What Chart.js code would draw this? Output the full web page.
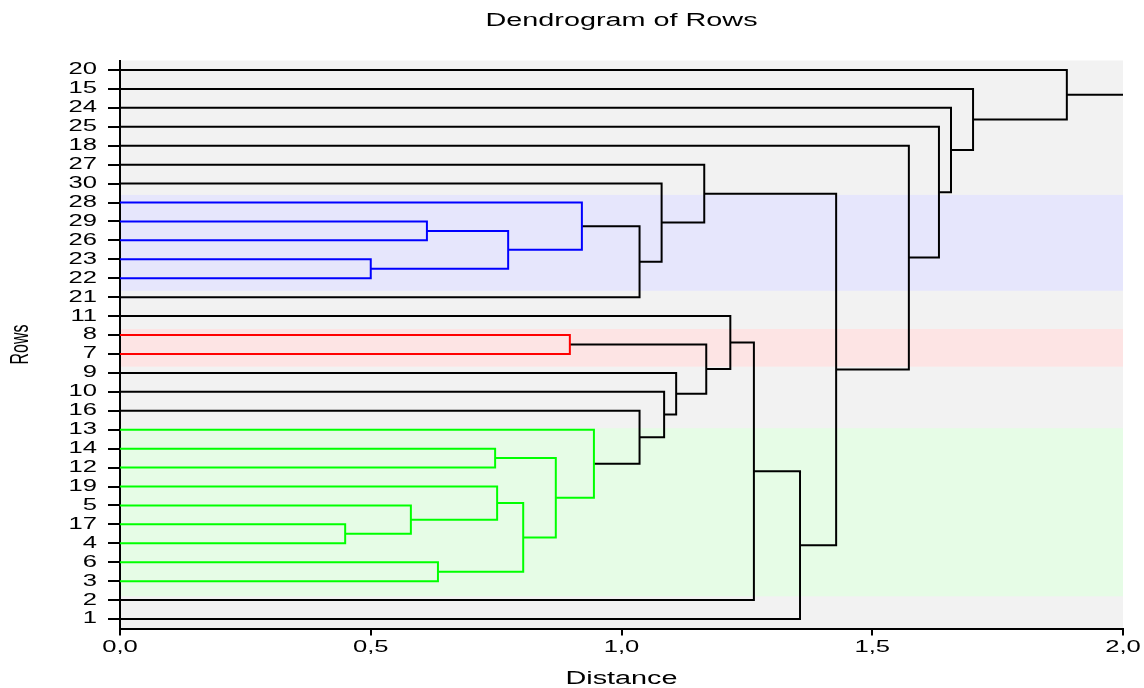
<!DOCTYPE html>
<html>
<head>
<meta charset="utf-8">
<title>Dendrogram of Rows</title>
<script src="https://cdn.jsdelivr.net/npm/chart.js@4/dist/chart.umd.min.js"></script>
<style>
  html, body { margin: 0; padding: 0; background: #fff; }
  #wrap { width: 1144px; height: 688px; }
</style>
</head>
<body>
<div id="wrap"><canvas id="dendro" width="1144" height="688"></canvas></div>
<script>
// rows in the order they appear, top to bottom
const rowLabels = ['20', '15', '24', '25', '18', '27', '30', '28', '29', '26', '23', '22', '21',
  '11', '8', '7', '9', '10', '16', '13', '14', '12', '19', '5', '17', '4', '6', '3', '2', '1'];

// each merge joins two nodes: a row label or "#k" = result of merge k
const mergePairs = [
  ['17', '4'],    // #0
  ['23', '22'],   // #1
  ['5', '#0'],    // #2
  ['29', '26'],   // #3
  ['6', '3'],     // #4
  ['14', '12'],   // #5
  ['19', '#2'],   // #6
  ['#3', '#1'],   // #7
  ['#6', '#4'],   // #8
  ['#5', '#8'],   // #9
  ['8', '7'],     // #10
  ['28', '#7'],   // #11
  ['13', '#9'],   // #12
  ['#11', '21'],  // #13
  ['16', '#12'],  // #14
  ['30', '#13'],  // #15
  ['10', '#14'],  // #16
  ['9', '#16'],   // #17
  ['27', '#15'],  // #18
  ['#10', '#17'], // #19
  ['11', '#19'],  // #20
  ['#20', '2'],   // #21
  ['#21', '1'],   // #22
  ['#18', '#22'], // #23
  ['18', '#23'],  // #24
  ['25', '#24'],  // #25
  ['24', '#25'],  // #26
  ['15', '#26'],  // #27
  ['20', '#27']   // #28
];
const mergeHeights = [0.449, 0.500, 0.580, 0.612, 0.634, 0.748, 0.752, 0.774, 0.804, 0.869,
  0.897, 0.921, 0.945, 1.036, 1.036, 1.080, 1.085, 1.109, 1.165, 1.169,
  1.217, 1.264, 1.356, 1.428, 1.573, 1.633, 1.657, 1.701, 1.888];
// cluster of each merge (null = above the cut)
const mergeCluster = ['green', 'blue', 'green', 'blue', 'green', 'green', 'green', 'blue', 'green', 'green',
  'red', 'blue', 'green', null, null, null, null, null, null, null,
  null, null, null, null, null, null, null, null, null];

// shaded cluster bands, in row units
const bandCluster = ['blue', 'red', 'green'];
const bandFrom = [6.6, 13.68, 18.92];
const bandTo = [11.66, 15.67, 27.8];

const xTicks = [0, 0.5, 1.0, 1.5, 2.0];
const rootEnd = 2.0;

const lineColors = { blue: '#0000ff', red: '#ff0000', green: '#00ff00' };
const bandColors = { blue: '#e6e6fc', red: '#fde4e4', green: '#e6fce6' };
const STRETCH = 1.6;

// position (row) and height of every node
const nodes = {};
rowLabels.forEach((r, i) => { nodes[r] = { y: i, h: 0 }; });

const datasets = mergePairs.map((pair, k) => {
  const a = nodes[pair[0]], b = nodes[pair[1]];
  const h = mergeHeights[k];
  nodes['#' + k] = { y: (a.y + b.y) / 2, h: h };
  return {
    data: [{ x: a.h, y: a.y }, { x: h, y: a.y }, { x: h, y: b.y }, { x: b.h, y: b.y }],
    borderColor: mergeCluster[k] ? lineColors[mergeCluster[k]] : '#000000'
  };
});
const rootNode = nodes['#' + (mergePairs.length - 1)];
datasets.push({
  data: [{ x: rootNode.h, y: rootNode.y }, { x: rootEnd, y: rootNode.y }],
  borderColor: '#000000'
});
datasets.forEach(d => {
  d.showLine = true;
  d.borderWidth = 2;
  d.pointRadius = 0;
  d.fill = false;
  d.borderJoinStyle = 'miter';
});

// plot background + cluster bands
const bgPlugin = {
  id: 'bg',
  afterLayout(chart) {
    // title centred over the plot area, not the whole canvas
    if (chart.titleBlock) {
      chart.titleBlock.left = chart.chartArea.left;
      chart.titleBlock.right = chart.chartArea.right;
    }
  },
  beforeDraw(chart) {
    const { ctx, chartArea: a, scales: { y } } = chart;
    ctx.save();
    ctx.fillStyle = '#f2f2f2';
    ctx.fillRect(a.left, a.top, a.right - a.left, a.bottom - a.top);
    bandCluster.forEach((c, i) => {
      const y0 = y.getPixelForValue(bandFrom[i]);
      const y1 = y.getPixelForValue(bandTo[i]);
      ctx.fillStyle = bandColors[c];
      ctx.fillRect(a.left, y0, a.right - a.left, y1 - y0);
    });
    ctx.restore();
  }
};

// text in the reference is stretched horizontally
const stretchPlugin = {
  id: 'stretch',
  beforeInit(chart) {
    const ctx = chart.ctx;
    const orig = CanvasRenderingContext2D.prototype.fillText;
    ctx.fillText = function (text, x, y) {
      const m = this.getTransform();
      const p = m.transformPoint(new DOMPoint(x, y));
      this.save();
      this.setTransform(new DOMMatrix().translate(p.x, p.y).scale(STRETCH, 1).translate(-p.x, -p.y).multiply(m));
      orig.call(this, text, x, y);
      this.restore();
    };
  }
};

const font = 'Liberation Sans, Arial, sans-serif';

new Chart(document.getElementById('dendro').getContext('2d'), {
  type: 'scatter',
  data: { datasets: datasets },
  options: {
    responsive: false,
    animation: false,
    layout: { padding: { left: 0, right: 21, top: 0, bottom: 0 } },
    plugins: {
      legend: { display: false },
      tooltip: { enabled: false },
      title: {
        display: true,
        text: 'Dendrogram of Rows',
        color: '#000',
        font: { family: font, size: 18, weight: 'normal' },
        padding: { top: 10.5, bottom: 28.4 }
      }
    },
    scales: {
      x: {
        type: 'linear',
        min: 0,
        max: 2,
        afterBuildTicks: s => { s.ticks = xTicks.map(v => ({ value: v })); },
        afterFit: s => { s.height = 59.5; },
        ticks: {
          color: '#000',
          font: { family: font, size: 16 },
          padding: 2,
          maxRotation: 0,
          callback: v => v.toFixed(1).replace('.', ',')
        },
        grid: { drawOnChartArea: false, drawTicks: true, tickLength: 7, color: '#000', lineWidth: 2 },
        border: { display: true, color: '#000', width: 2 },
        title: {
          display: true,
          text: 'Distance',
          color: '#000',
          font: { family: font, size: 18 },
          padding: { top: 0, bottom: -1.5 }
        }
      },
      y: {
        type: 'linear',
        min: -0.5,
        max: 29.5,
        reverse: true,
        afterBuildTicks: s => { s.ticks = rowLabels.map((_, i) => ({ value: i })); },
        afterFit: s => { s.width = 120; },
        ticks: {
          color: '#000',
          autoSkip: false,
          font: { family: font, size: 16 },
          padding: 11,
          callback: v => rowLabels[v]
        },
        grid: { drawOnChartArea: false, drawTicks: true, tickLength: 12, color: '#000', lineWidth: 2 },
        border: { display: true, color: '#000', width: 2 },
        title: {
          display: true,
          text: 'Rows',
          color: '#000',
          font: { family: font, size: 16 },
          padding: { top: 11, bottom: 0 }
        }
      }
    }
  },
  plugins: [bgPlugin, stretchPlugin]
});
</script>
</body>
</html>
